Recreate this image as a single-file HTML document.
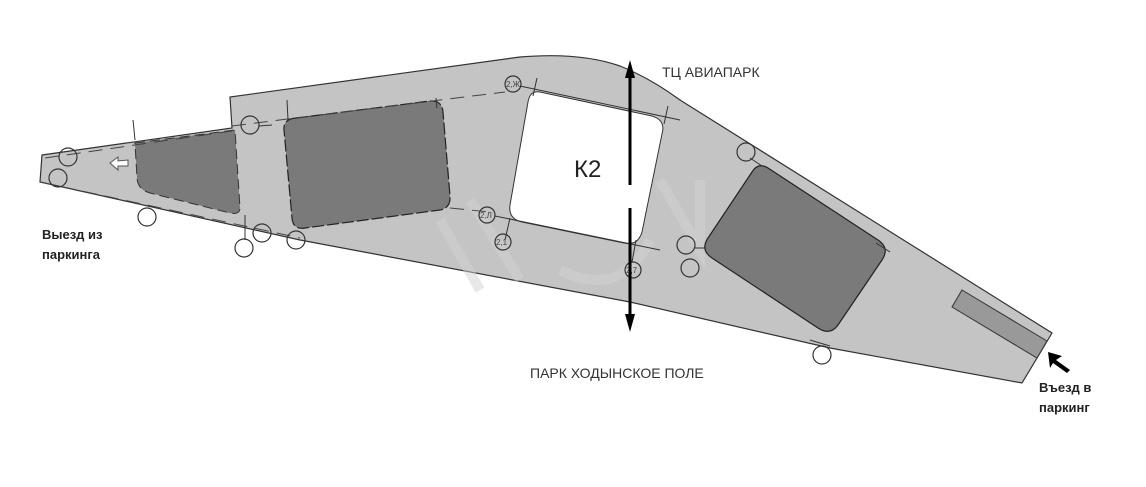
<!DOCTYPE html>
<html><head><meta charset="utf-8"><style>
html,body{margin:0;padding:0;background:#fff;}
svg{display:block;}
text{font-family:"Liberation Sans","DejaVu Sans",sans-serif;}
</style></head><body>
<svg width="1146" height="487" viewBox="0 0 1146 487" xmlns="http://www.w3.org/2000/svg">
<!-- outer slab -->
<path d="M42,155 L232,128 L230,97 L520,57 Q580,52 620,66 Q650,78 680,100 L1052,333 L1022,383 L830,348 L630,302 L300,240 L40,182 Z" fill="#c4c4c4" stroke="#333" stroke-width="1.2"/>
<!-- white hole -->
<path d="M540,92 L652,116 Q666,120 662,134 L642,232 Q638,246 624,243 L522,222 Q508,219 510,205 L528,102 Q530,90 540,92 Z" fill="#fff" stroke="#333" stroke-width="1"/>
<!-- watermark -->
<g fill="none" stroke="#d2d2d2" stroke-width="10" opacity="0.5">
<path d="M440,220 L480,290 M470,200 L520,280"/>
<path d="M560,270 Q620,300 650,240"/>
<path d="M660,180 L700,250 L700,180"/>
</g>
<!-- dark areas -->
<path d="M135,143 L235,130 L240,208 Q240,215 230,213 L150,193 Q138,190 137,178 Z" fill="#7a7a7a" stroke="#333" stroke-width="1" stroke-dasharray="10,5"/>
<path d="M296,118 L430,101 Q442,100 443,112 L450,196 Q451,208 440,210 L305,228 Q293,230 292,218 L284,130 Q283,119 296,118 Z" fill="#7a7a7a" stroke="#222" stroke-width="1.2" stroke-dasharray="12,3"/>
<path d="M768,168 L878,240 Q890,248 882,260 L838,325 Q830,336 818,328 L712,258 Q700,250 708,238 L752,172 Q758,162 768,168 Z" fill="#7a7a7a" stroke="#222" stroke-width="1.2"/>
<path d="M962,290 L1047,341 L1037,358 L952,307 Z" fill="#999" stroke="#333" stroke-width="1"/>
<!-- dashed construction lines -->
<g stroke="#444" stroke-width="1" fill="none" stroke-dasharray="14,8">
<path d="M232,126 L440,100 L505,92"/>
<path d="M40,182 L300,238"/>
<path d="M45,158 L232,131"/>
<path d="M450,208 L490,212"/>
</g>
<g stroke="#333" stroke-width="1" fill="none">
<line x1="133" y1="120" x2="135" y2="140"/>
<line x1="245" y1="215" x2="245" y2="240"/>
<line x1="287" y1="100" x2="288" y2="120"/>
<line x1="436" y1="98" x2="437" y2="108"/>
<line x1="520" y1="86" x2="680" y2="120"/>
<line x1="537" y1="78" x2="533" y2="96"/>
<line x1="668" y1="106" x2="664" y2="124"/>
<line x1="495" y1="216" x2="660" y2="250"/>
<line x1="510" y1="218" x2="505" y2="240"/>
<line x1="636" y1="240" x2="632" y2="262"/>
<line x1="750" y1="158" x2="762" y2="166"/>
<line x1="876" y1="243" x2="890" y2="252"/>
<line x1="810" y1="340" x2="830" y2="346"/>
<line x1="695" y1="248" x2="706" y2="248"/>
<line x1="259" y1="126" x2="272" y2="125"/>
</g>
<!-- circles -->
<g fill="none" stroke="#333" stroke-width="1.2">
<circle cx="68" cy="157" r="9"/><circle cx="58" cy="178" r="9"/>
<circle cx="147" cy="217" r="9"/><circle cx="244" cy="248" r="9"/>
<circle cx="262" cy="233" r="9"/><circle cx="296" cy="240" r="9"/>
<circle cx="250" cy="125" r="9"/><circle cx="513" cy="84" r="8"/>
<circle cx="487" cy="215" r="8"/><circle cx="503" cy="242" r="8"/>
<circle cx="633" cy="270" r="8"/><circle cx="746" cy="152" r="9"/>
<circle cx="686" cy="245" r="9"/><circle cx="690" cy="268" r="9"/>
<circle cx="822" cy="355" r="9"/>
</g>
<g font-size="8" fill="#444">
<text x="506" y="87">2,Ж</text><text x="480" y="218">2,Л</text><text x="496" y="245">2,1</text><text x="626" y="273">2,7</text>
</g>
<!-- left arrow -->
<path d="M110,163 L118,157 L118,161 L128,160 L128,166 L118,166 L118,170 Z" fill="#fff" stroke="#555" stroke-width="1"/>
<!-- vertical double arrow -->
<g stroke="#000" stroke-width="3">
<line x1="630" y1="75" x2="630" y2="185"/>
<line x1="630" y1="208" x2="630" y2="318"/>
</g>
<path d="M630,60 L625,78 L635,78 Z" fill="#000"/>
<path d="M630,332 L625,314 L635,314 Z" fill="#000"/>
<!-- entry arrow -->
<path d="M1048,352 L1062,356 L1056,360 L1070,370 L1067,373 L1053,363 L1050,368 Z" fill="#000"/>
<!-- labels -->
<text x="662" y="77" font-size="14" fill="#333">ТЦ АВИАПАРК</text>
<text x="574" y="177" font-size="24" fill="#222">К2</text>
<text x="530" y="378" font-size="14" fill="#333">ПАРК ХОДЫНСКОЕ ПОЛЕ</text>
<text x="42" y="239" font-size="13" font-weight="bold" fill="#222">Выезд из</text>
<text x="42" y="259" font-size="13" font-weight="bold" fill="#222">паркинга</text>
<text x="1039" y="392" font-size="13" font-weight="bold" fill="#222">Въезд в</text>
<text x="1039" y="412" font-size="13" font-weight="bold" fill="#222">паркинг</text>
</svg>
</body></html>
